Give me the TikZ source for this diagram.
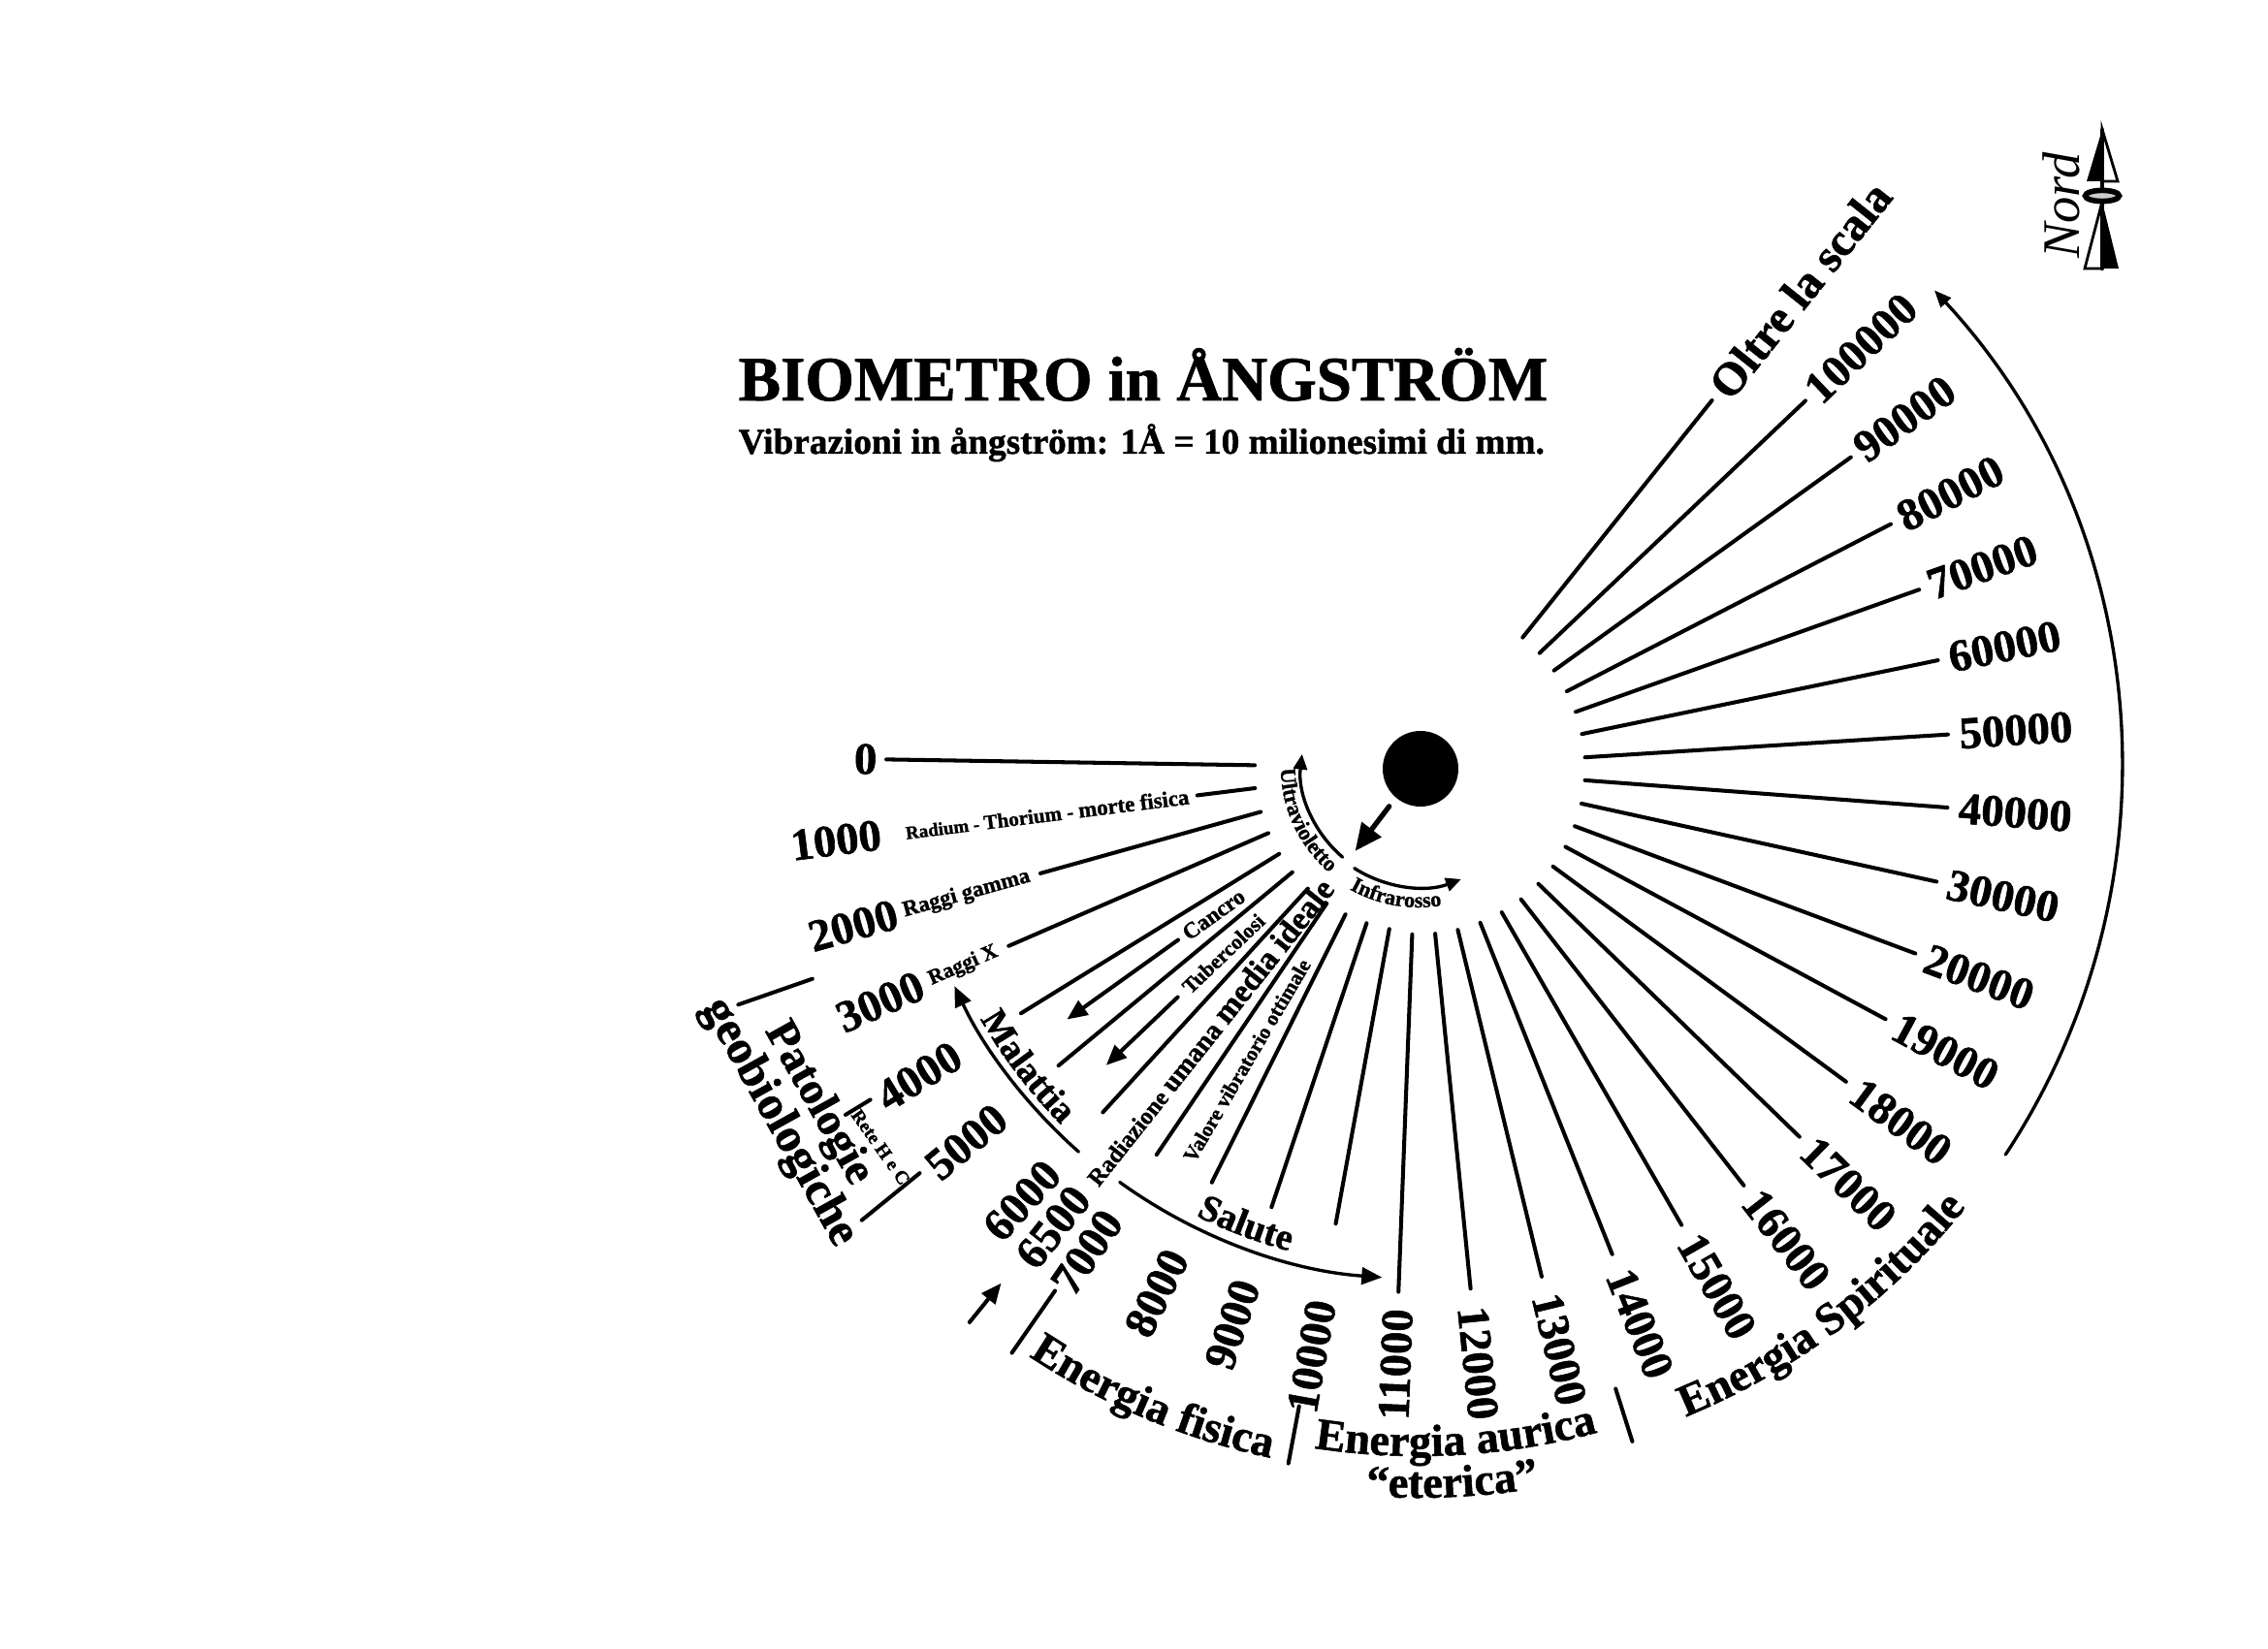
\documentclass[tikz,border=0pt]{standalone}
\usepackage{fontspec}
\setmainfont{Liberation Serif}[BoldFeatures={FakeBold=1.2}]
\usetikzlibrary{arrows.meta,decorations.text}
\newcommand\fsz[1]{\fontsize{#1}{#1}\selectfont}
\begin{document}
\begin{tikzpicture}[line cap=round,
  ray/.style={line width=1.15pt},
  thinarc/.style={line width=0.95pt},
  tip/.style={-{Triangle[length=6pt,width=5pt]}},
  num/.style={font=\bfseries\fsz{13.3}, inner sep=0pt},
  lab/.style={font=\bfseries, inner sep=0pt},
  curved/.style={decorate, decoration={text along path, text align=center, text={#1}}}]
\useasboundingbox (-14.63,-9.08) rectangle (8.76,7.92);
\fill[white] (-14.63,-9.08) rectangle (8.76,7.92);

% title
\node[anchor=base west, font=\bfseries\fsz{18.5}, inner sep=0pt] (title) at (-7.02,3.79) {BIOMETRO in ÅNGSTRÖM};
\node[anchor=base west, font=\bfseries\fsz{10.6}, inner sep=0pt] (subtitle) at (-7.02,3.24) {Vibrazioni in ångström: 1Å = 10 milionesimi di mm.};

% centre
\fill (0.02,-0.01) circle (0.39);
\coordinate (dotA) at (232.7:0.50);
\coordinate (dotB) at (232.7:1.08);
\draw[line width=1.5pt, -{Triangle[length=8pt,width=7pt]}] (dotA) -- (dotB);

% rays, left and bottom
\foreach \a/\ro in {179.1/5.49, 195.6/4.05, 203.5/4.61, 211.7/4.82, 219.6/4.82, 227.5/4.82, 235.9/4.82, 243.5/4.78, 251.5/4.78, 259.7/4.78}
  \draw[ray] (\a:1.69) -- (\a:\ro);
\draw[ray] (187.1:1.70) -- (187.1:2.30);
% rays, right
\foreach \a/\ro in {267.8/5.41, 275.7/5.40, 283.6/5.40, 291.7/5.40, 299.9/5.44, 307.9/5.46, 315.9/5.47, 323.7/5.47, 331.7/5.47, 339.5/5.47, 347.6/5.47, 355.7/5.47, 363.6/5.47, 371.7/5.47, 379.6/5.48, 387.3/5.48, 395.7/5.49, 403.5/5.50, 411.4/4.85}
  \draw[ray] (\a:1.72) -- (\a:\ro);

% number labels
\foreach \a/\t in {179.1/0, 187.1/1000, 195.6/2000, 203.5/3000, 211.7/4000, 219.6/5000, 227.5/6000, 231.5/6500, 235.6/7000, 243.5/8000, 251.5/9000, 259.7/10000, 267.8/11000}
  \node[num, anchor=east, rotate=\a-180] (n\t) at (\a:5.58) {\t};
\foreach \a/\t in {275.7/12000, 283.6/13000, 291.7/14000, 299.9/15000, 307.9/16000, 315.9/17000, 323.7/18000, 331.7/19000, 339.5/20000, 347.6/30000, 355.7/40000, 363.6/50000, 371.7/60000, 379.6/70000, 387.3/80000, 395.7/90000, 403.5/100000}
  \node[num, anchor=west, rotate=\a] (n\t) at (\a:5.58) {\t};
\node[font=\bfseries\fsz{13.6}, inner sep=0pt, anchor=west, rotate=51.4] (oltre) at (51.4:4.95) {Oltre la scala};

% small labels along rays
\node[lab, rotate=7.1] (radium) at (187.1:3.86) {\fsz{5.4}Radium - \fsz{6}Thorium - \fsz{6.5}morte fisica};
\node[lab, rotate=15.6, font=\bfseries\fsz{6.5}] (gamma) at (195.6:4.84) {Raggi gamma};
\node[lab, rotate=23.5, font=\bfseries\fsz{6.2}] (raggix) at (203.5:5.12) {Raggi X};
\node[lab, rotate=35.6, font=\bfseries\fsz{6.6}] (cancro) at (215.6:2.60) {Cancro};
\node[lab, rotate=43.6, font=\bfseries\fsz{6.2}] (tuberc) at (223.6:2.78) {Tubercolosi};
\node[lab, rotate=51.5] (radiaz) at (231.5:3.48) {\fsz{7}Radiazione \fsz{8}umana \fsz{9.5}media ideale};
\node[lab, rotate=59.6, font=\bfseries\fsz{6.1}] (valore) at (239.6:3.50) {Valore vibratorio ottimale};

% disease arrows
\draw[ray, tip] (215.6:3.05) -- (215.6:4.46);
\draw[ray, tip] (223.6:3.43) -- (223.6:4.45);

% arcs
\draw[thinarc, -{Triangle[length=4.5pt,width=4pt]}] (229.6:1.21) arc[start angle=229.6, end angle=173.3, radius=1.21cm];
\draw[thinarc, -{Triangle[length=4.5pt,width=4pt]}] (237.4:1.23) arc[start angle=237.4, end angle=290.9, radius=1.23cm];
\draw[thinarc, tip] (228.5:5.29) arc[start angle=228.5, end angle=205.2, radius=5.29cm];
\draw[thinarc, tip] (234.2:5.27) arc[start angle=234.2, end angle=265.9, radius=5.27cm];
\draw[thinarc, -{Triangle[length=5pt,width=4pt]}] (-33.4:7.25) arc[start angle=-33.4, end angle=42.8, radius=7.25cm];

% curved labels
\path[curved={|\bfseries\fsz{6.4}|Ultravioletto}] (178:1.42) arc[start angle=178, end angle=232, radius=1.42cm];
\path[curved={|\bfseries\fsz{6.3}|Infrarosso}] (233:1.44) arc[start angle=233, end angle=287, radius=1.44cm];
\path[curved={|\bfseries\fsz{10.7}|Malattia}] (202.4:5.21) arc[start angle=202.4, end angle=232.4, radius=5.21cm];
\path[curved={|\bfseries\fsz{11}|Salute}] (234.3:5.16) arc[start angle=234.3, end angle=264.3, radius=5.16cm];
\path[curved={|\bfseries\fsz{13.2}|Energia fisica}] (230:7.28) arc[start angle=230, end angle=264.4, radius=7.28cm];
\path[curved={|\bfseries\fsz{13.2}|Energia aurica}] (258:7.10) arc[start angle=258, end angle=288.4, radius=7.10cm];
\path[curved={|\bfseries\fsz{13.2}|“eterica”}] (262:7.53) arc[start angle=262, end angle=283.4, radius=7.53cm];
\path[curved={|\bfseries\fsz{13.2}|Energia Spirituale}] (285:7.24) arc[start angle=285, end angle=328.6, radius=7.24cm];

% brackets and ticks
\draw[ray] (199.2:6.62) -- (199.2:7.43);
\draw[ray] (219.1:6.63) -- (219.1:7.40);
\draw[ray] (211.2:6.61) -- (211.2:6.91);
\draw[ray] (235.2:6.57) -- (235.2:7.35);
\draw[ray] (259.4:6.70) -- (259.4:7.30);
\draw[ray] (287.6:6.72) -- (287.6:7.29);
\draw[ray, tip] (231:7.36) -- (231:6.84);
\node[font=\bfseries\fsz{13.3}, inner sep=0pt, rotate=-60.8] (patol) at (209.2:7.10) {Patologie};
\node[font=\bfseries\fsz{14}, inner sep=0pt, rotate=-61] (geobio) at (209:7.545) {geobiologiche};
\node[font=\bfseries\fsz{5.5}, inner sep=0pt, rotate=-54.8] (rete) at (215.2:6.79) {Rete H e C};

% north arrow
\fill (7.05,6.585) -- (6.89,6.05) -- (7.05,6.05) -- cycle;
\draw[line width=0.8pt, fill=white] (7.05,6.585) -- (7.21,6.05) -- (7.05,6.05) -- cycle;
\fill (7.05,5.84) -- (7.22,5.15) -- (7.05,5.15) -- cycle;
\draw[line width=0.8pt] (7.05,5.84) -- (6.87,5.15) -- (7.05,5.15);
\draw[line width=1.2pt] (7.05,6.58) -- (7.05,5.15);
\draw[line width=1.6pt, fill=gray!40] (7.05,5.90) ellipse[x radius=0.175, y radius=0.056];
\node[font=\itshape\fsz{15.5}, inner sep=0pt, rotate=90] (nord) at (6.63,5.80) {Nord};
\end{tikzpicture}
\end{document}
